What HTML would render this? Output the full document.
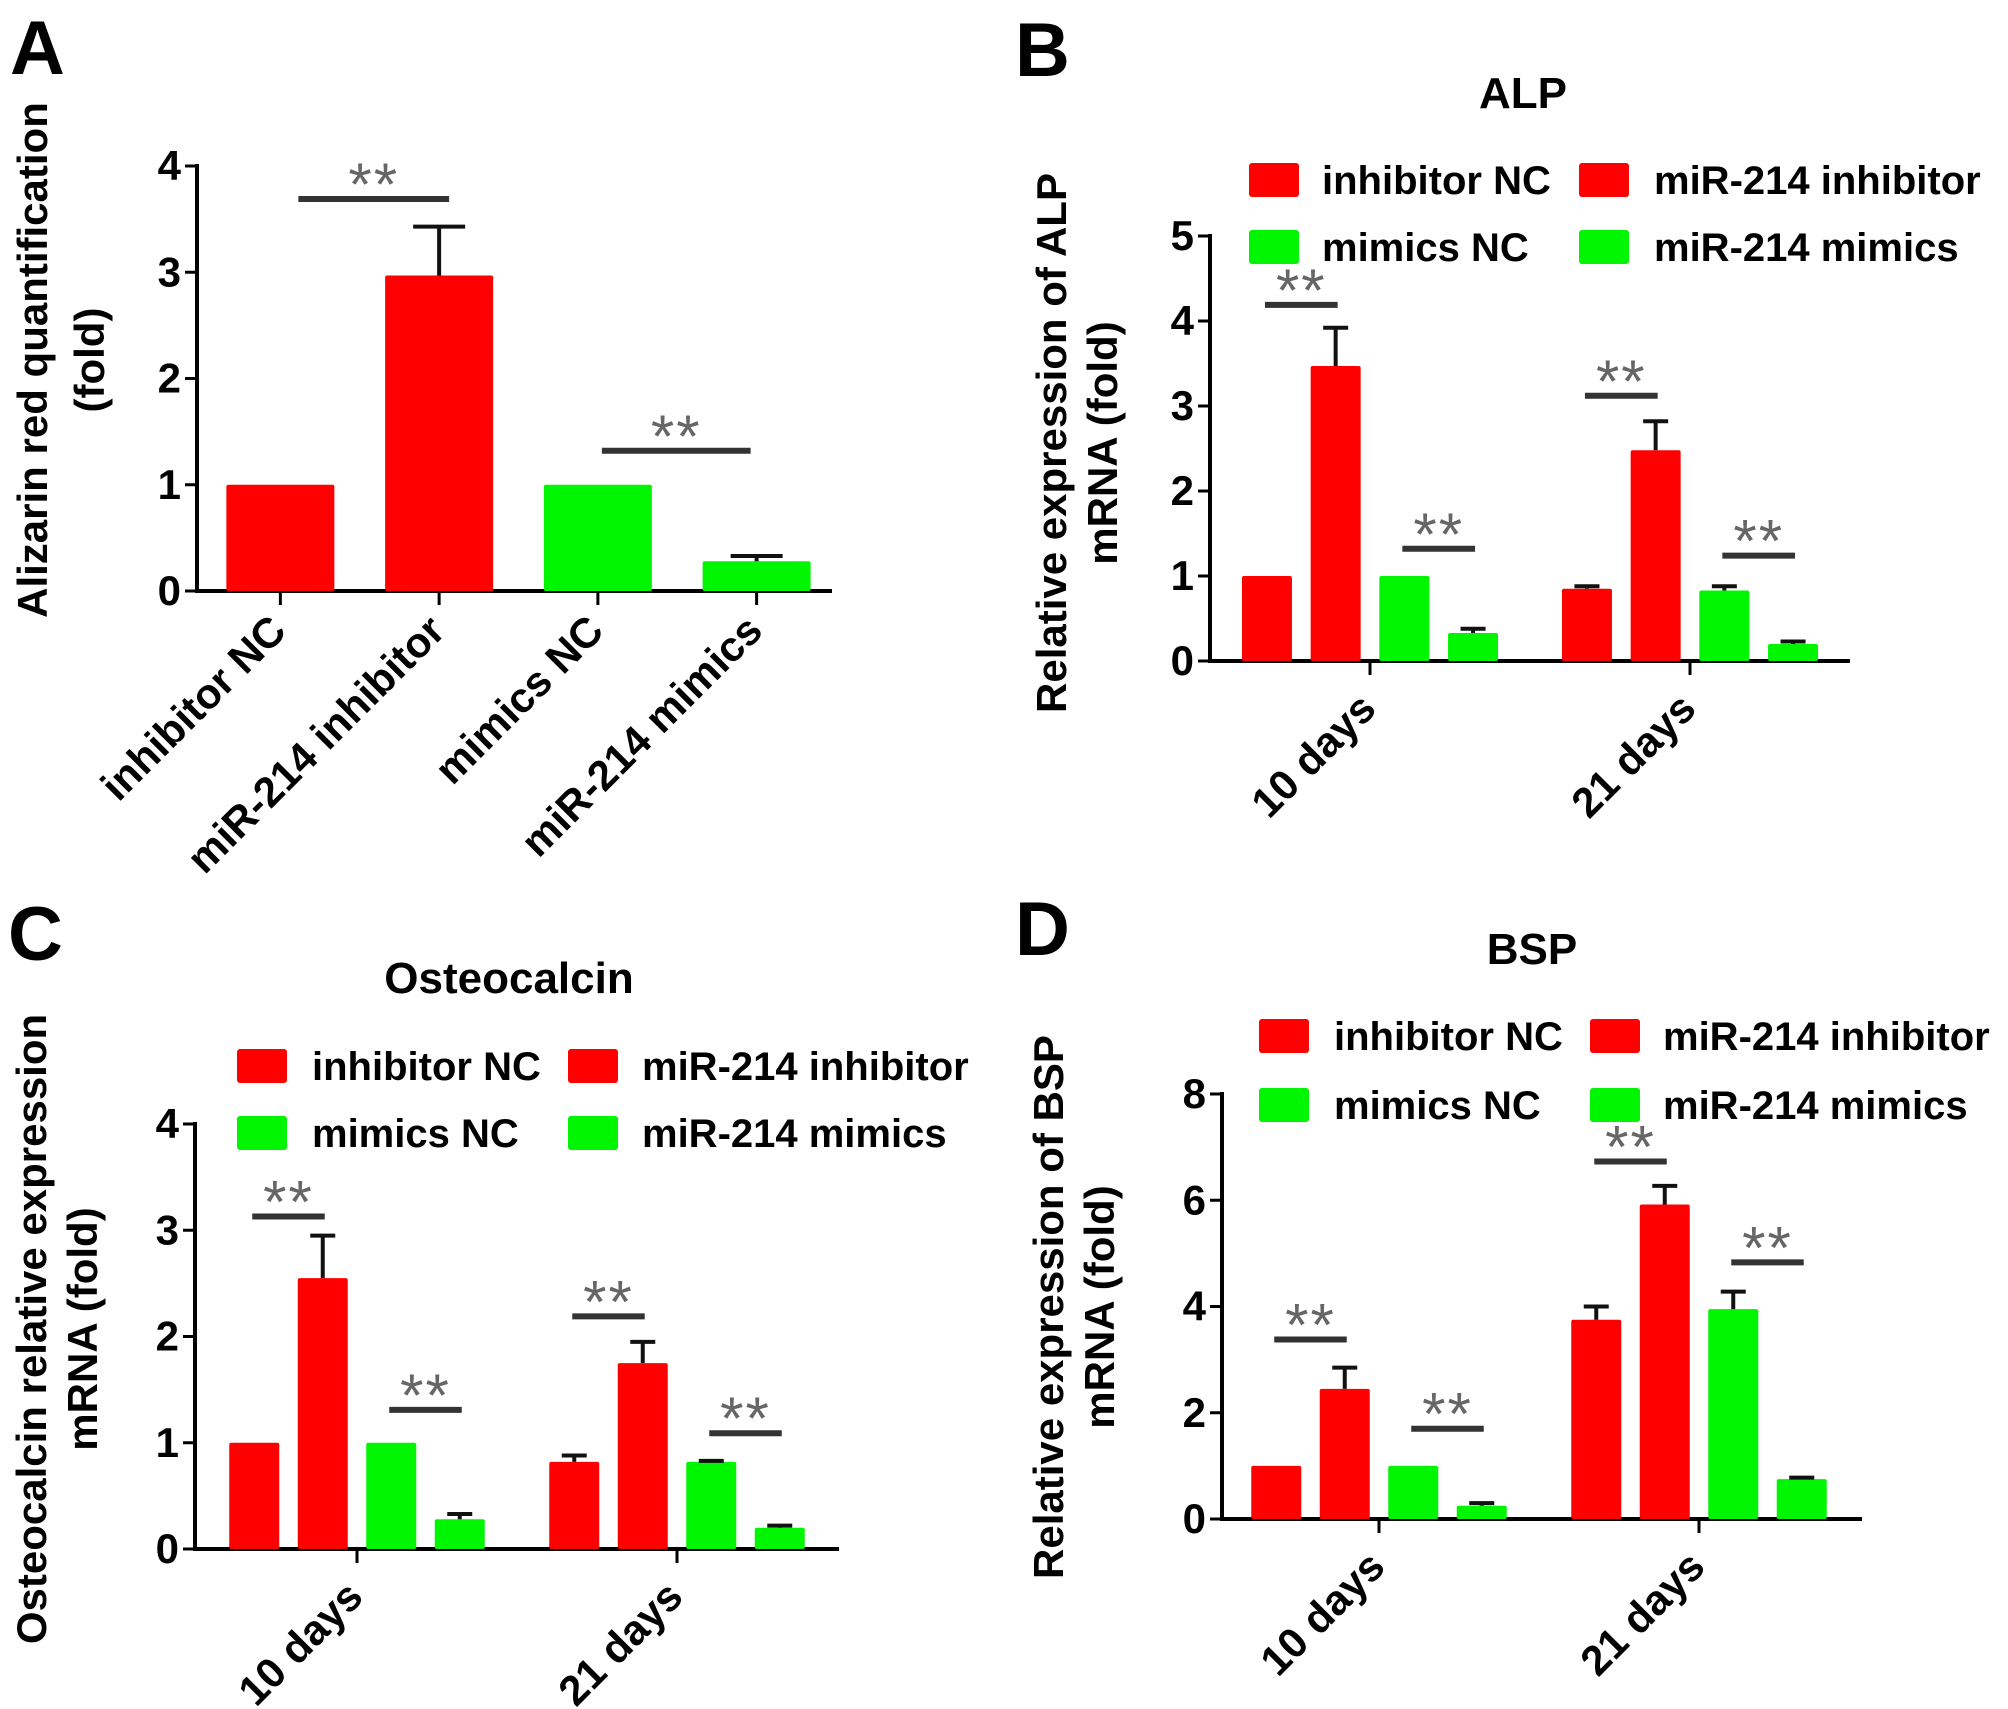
<!DOCTYPE html>
<html><head><meta charset="utf-8">
<style>
html,body{margin:0;padding:0;background:#fff;}
svg{display:block;font-family:"Liberation Sans",Arial,sans-serif;font-weight:bold;}
</style></head>
<body>
<svg id="fig" width="2008" height="1709" viewBox="0 0 2008 1709" xmlns="http://www.w3.org/2000/svg"></svg>
<script>
// ---- Panel A data ----
const catsA = ["inhibitor NC","miR-214 inhibitor","mimics NC","miR-214 mimics"];
const valsA = [1, 2.97, 1, 0.28];
const errA = [0, 0.46, 0, 0.05];
const sigA = [3.69, 1.32];
const ticksA = [0,1,2,3,4];
// ---- Panel B (ALP) ----
const groupsB = ["10 days","21 days"];
const valsB_10 = [1, 3.47, 1, 0.33];
const valsB_21 = [0.85, 2.48, 0.83, 0.2];
const errB_10 = [0, 0.45, 0, 0.05];
const errB_21 = [0.03, 0.34, 0.05, 0.03];
const sigB_10 = [4.19, 1.32];
const sigB_21 = [3.12, 1.24];
const ticksB = [0,1,2,3,4,5];
// ---- Panel C (Osteocalcin) ----
const groupsC = ["10 days","21 days"];
const valsC_10 = [1, 2.55, 1, 0.28];
const valsC_21 = [0.82, 1.75, 0.82, 0.2];
const errC_10 = [0, 0.4, 0, 0.05];
const errC_21 = [0.06, 0.2, 0.01, 0.02];
const sigC_10 = [3.13, 1.31];
const sigC_21 = [2.19, 1.09];
const ticksC = [0,1,2,3,4];
// ---- Panel D (BSP) ----
const groupsD = ["10 days","21 days"];
const valsD_10 = [1, 2.45, 1, 0.25];
const valsD_21 = [3.75, 5.92, 3.95, 0.75];
const errD_10 = [0, 0.4, 0, 0.05];
const errD_21 = [0.25, 0.35, 0.33, 0.03];
const sigD_10 = [3.38, 1.70];
const sigD_21 = [6.73, 4.83];
const ticksD = [0,2,4,6,8];
const legendLabels = ["inhibitor NC","miR-214 inhibitor","mimics NC","miR-214 mimics"];

const RED="#ff0000", GREEN="#00f500";
const colors=[RED,RED,GREEN,GREEN];
const svg=document.getElementById('fig');
const NS="http://www.w3.org/2000/svg";
function mk(tag,attrs,parent){const e=document.createElementNS(NS,tag);for(const k in attrs)e.setAttribute(k,attrs[k]);(parent||svg).appendChild(e);return e;}
function txt(s,attrs,parent){const e=mk('text',attrs,parent);e.textContent=s;return e;}

function axes(g,c,ticks){
  const y=v=>c.y0-(v/c.yMax)*(c.y0-c.yTop);
  const ax=mk('line',{x1:c.ax,y1:c.yTop-2,x2:c.ax,y2:c.y0+2,stroke:'#000','stroke-width':4},g);
  
  
  const xl=mk('line',{x1:c.ax-2,y1:c.y0,x2:c.xEnd,y2:c.y0,stroke:'#000','stroke-width':4},g);
  
  
  ticks.forEach(t=>{
    const tk=mk('line',{x1:c.ax-12,y1:y(t),x2:c.ax,y2:y(t),stroke:'#000','stroke-width':3},g);
    
    
    const tl=txt(String(t),{x:c.ax-16,y:y(t)+14,'text-anchor':'end','font-size':42},g);
    
    
  });
  return y;
}
function ylabel(g,lines,cx,cy){
  lines.forEach((s,i)=>{
    const t=txt(s.t,{x:s.x,y:cy,'text-anchor':'middle','font-size':42,transform:`rotate(-90 ${s.x} ${cy})`,'dominant-baseline':'middle'},g);
    
    
  });
}
function bar(g,cx,w,v,e,col,y,y0){
  const r=mk('rect',{x:cx-w/2,y:y(v),width:w,height:y0-y(v),fill:col,rx:2},g);
  
  
  if(e>0){
    const s=mk('line',{x1:cx,y1:y(v),x2:cx,y2:y(v+e),stroke:'#111','stroke-width':4},g);
    
    
    const cw=Math.min(w*0.5,52)/2;
    const cp=mk('line',{x1:cx-cw,y1:y(v+e),x2:cx+cw,y2:y(v+e),stroke:'#111','stroke-width':4},g);
    
    
  }
}
function sig(g,x1,x2,v,y){
  const l=mk('line',{x1:x1,y1:y(v),x2:x2,y2:y(v),stroke:'#333','stroke-width':6},g);
  
  
  const s=txt('**',{x:(x1+x2)/2,y:y(v)+6,'text-anchor':'middle','font-size':60,fill:'#666','font-weight':'normal','letter-spacing':'2'},g);
  
  
}
function xlabel(g,s,tx,y0,dy){
  const px=tx+8, py=y0+dy;
  const t=txt(s,{x:px,y:py,'text-anchor':'end','font-size':42,transform:`rotate(-45 ${px} ${py})`},g);
  
  
}
function letter(s,x,y){
  const t=txt(s,{x:x,y:y,'font-size':76});
  
  
}
function title(g,s,x,y){
  const t=txt(s,{x:x,y:y+15,'text-anchor':'middle','font-size':44},g);
  
  
}
function legend(g,c){
  legendLabels.forEach((s,i)=>{
    const row=Math.floor(i/2), col=i%2;
    const sx=col?c.lx2:c.lx1, tx=col?c.tx2:c.tx1, yy=row?c.ly2:c.ly1;
    const le=mk('g',{},g);
    
    
    const r=mk('rect',{x:sx,y:yy-17,width:50,height:34,rx:3,fill:colors[i]},le);
    
    
    const t=txt(s,{x:tx,y:yy+14,'font-size':40},le);
    
    
  });
}
function grouped(name,c,ticks,groups,vals,errs,sigs){
  const g=mk('g',{});
  
  
  const y=axes(g,c,ticks);
  groups.forEach((gr,gi)=>{
    const tx=c.gx[gi];
    const tk=mk('line',{x1:tx,y1:c.y0,x2:tx,y2:c.y0+14,stroke:'#000','stroke-width':3},g);
    
    
    const cx=i=>tx+(i-1.5)*c.step;
    vals[gi].forEach((v,i)=>bar(g,cx(i),c.bw,v,errs[gi][i],colors[i],y,c.y0));
    sig(g,cx(0)-2,cx(1)+2,sigs[gi][0],y);
    sig(g,cx(2)-2,cx(3)+2,sigs[gi][1],y);
    xlabel(g,gr,tx,c.y0,50);
  });
  legend(g,c);
  return g;
}

// Panel A
letter('A',10,74);
(function(){
  const c={ax:197,y0:591,yTop:166,yMax:4,xEnd:832};
  const g=mk('g',{});
  
  
  const y=axes(g,c,ticksA);
  const band=(c.xEnd-c.ax)/catsA.length;
  const cx=i=>c.ax+band*(i+0.5)+4;
  catsA.forEach((s,i)=>{
    bar(g,cx(i),108,valsA[i],errA[i],colors[i],y,c.y0);
    const tk=mk('line',{x1:cx(i),y1:c.y0,x2:cx(i),y2:c.y0+14,stroke:'#000','stroke-width':3},g);
    
    
    xlabel(g,s,cx(i),c.y0,42);
  });
  sig(g,cx(0)+18,cx(1)+10,sigA[0],y);
  sig(g,cx(2)+4,cx(3)-6,sigA[1],y);
  ylabel(g,[{t:'Alizarin red quantification',x:36},{t:'(fold)',x:93}],0,360);
})();

// Panel B
letter('B',1015,76);
(function(){
  const c={ax:1210,y0:661,yTop:236,yMax:5,xEnd:1850,gx:[1370,1690],step:68.7,bw:50,
    lx1:1249,tx1:1322,lx2:1579,tx2:1654,ly1:180,ly2:247};
  const g=grouped('panel-b-chart',c,ticksB,groupsB,[valsB_10,valsB_21],[errB_10,errB_21],[sigB_10,sigB_21]);
  title(g,'ALP',1523,93);
  ylabel(g,[{t:'Relative expression of ALP',x:1055},{t:'mRNA (fold)',x:1106}],0,443);
})();

// Panel C
letter('C',8,960);
(function(){
  const c={ax:195,y0:1549,yTop:1124,yMax:4,xEnd:839,gx:[357,677],step:68.5,bw:50,
    lx1:237,tx1:312,lx2:568,tx2:642,ly1:1066,ly2:1133};
  const g=grouped('panel-c-chart',c,ticksC,groupsC,[valsC_10,valsC_21],[errC_10,errC_21],[sigC_10,sigC_21]);
  title(g,'Osteocalcin',509,978);
  ylabel(g,[{t:'Osteocalcin relative expression',x:35},{t:'mRNA (fold)',x:86}],0,1329);
})();

// Panel D
letter('D',1015,955);
(function(){
  const c={ax:1222,y0:1519,yTop:1094,yMax:8,xEnd:1862,gx:[1379,1699],step:68.5,bw:50,
    lx1:1259,tx1:1334,lx2:1590,tx2:1663,ly1:1036,ly2:1105};
  const g=grouped('panel-d-chart',c,ticksD,groupsD,[valsD_10,valsD_21],[errD_10,errD_21],[sigD_10,sigD_21]);
  title(g,'BSP',1532,949);
  ylabel(g,[{t:'Relative expression of BSP',x:1052},{t:'mRNA (fold)',x:1103}],0,1307);
})();
</script>
</body></html>
